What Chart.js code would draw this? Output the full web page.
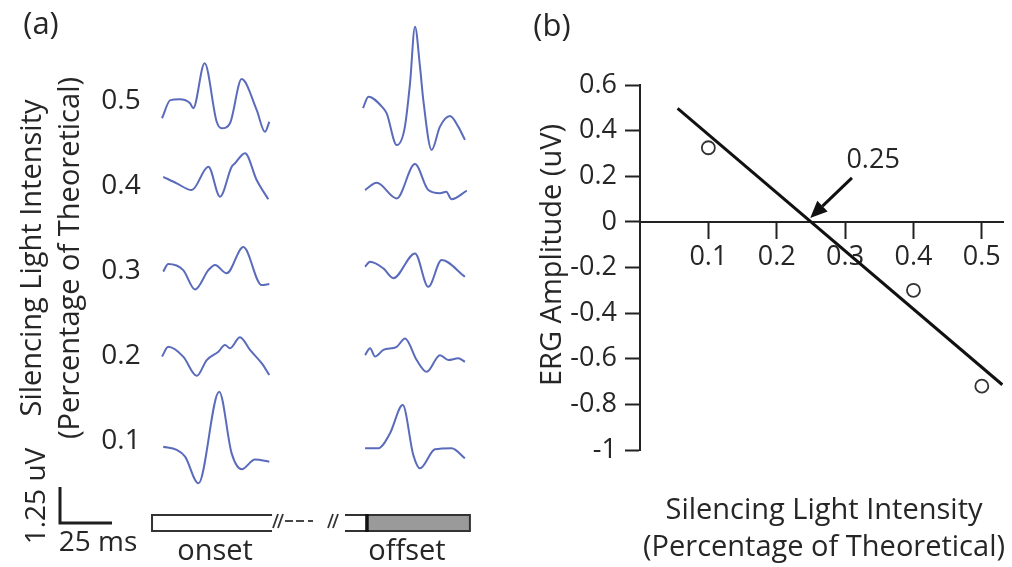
<!DOCTYPE html>
<html><head><meta charset="utf-8">
<script src="https://cdn.jsdelivr.net/npm/chart.js@4.4.1/dist/chart.umd.min.js"></script>
<style>
html,body{margin:0;padding:0;background:#fff;}
#wrap{position:relative;width:1012px;height:567px;overflow:hidden;background:#fff;}
#ca{position:absolute;left:0;top:0;}
#cb{position:absolute;left:500px;top:0;}
</style></head><body>
<div id="wrap"><canvas id="ca" width="500" height="567"></canvas><canvas id="cb" width="512" height="567"></canvas></div>
<script>
// ---------- DATA ----------
// Panel (a): ERG traces, [time ms, amplitude uV]
const intensities = [0.5, 0.4, 0.3, 0.2, 0.1];
const onset05 = [[0,-0.60],[4,0.03],[8.5,0.06],[13.5,-0.08],[15,-0.25],[20.5,1.31],[26.3,-0.72],[28.7,-0.95],[32.7,-0.77],[38.3,0.76],[45.5,-0.31],[49.5,-1.07],[51.6,-0.72]];
const offset05 = [[0,-0.25],[2.6,0.15],[9.6,-0.24],[11.4,-0.43],[16.2,-1.53],[20,-0.95],[22.6,0.61],[25,2.58],[27.4,1.19],[29,0.03],[33,-1.70],[37,-0.89],[41.8,-0.52],[45.8,-0.89],[49,-1.35]];
const onset04 = [[0.6,0.32],[7.1,0.09],[14.3,-0.14],[22.3,0.67],[27.9,-0.37],[33.5,0.67],[35.1,0.79],[39.9,1.14],[45.5,0.21],[51.1,-0.46]];
const offset04 = [[1,-0.14],[6.6,0.11],[16.2,-0.43],[25,0.76],[31.4,-0.14],[37,-0.25],[40,-0.20],[42.6,-0.46],[49.9,-0.16]];
const onset03 = [[0.6,-0.02],[3,0.24],[10.2,0.03],[15.9,-0.64],[22.3,0.03],[25.5,0.21],[31.1,-0.08],[39.1,0.83],[47.9,-0.49],[51.6,-0.45]];
const offset03 = [[1,0.15],[3.4,0.32],[9.8,0.09],[14.6,-0.25],[25,0.61],[31.4,-0.55],[37.8,0.38],[49,-0.20]];
const onset02 = [[0,-0.02],[3,0.32],[10.2,-0.02],[16.7,-0.69],[21.5,-0.14],[27.1,0.15],[30.3,0.38],[32.7,0.27],[37.5,0.65],[42.3,0.21],[47.9,-0.25],[51.6,-0.66]];
const offset02 = [[1,0.03],[3.4,0.27],[5.8,-0.02],[9.8,0.21],[16.2,0.32],[20.2,0.61],[25.8,-0.14],[30.6,-0.55],[37,0.03],[41,-0.14],[45.8,-0.08],[49,-0.20]];
const onset01 = [[0.6,-0.20],[7.1,-0.31],[11.1,-0.54],[17.5,-1.47],[27.5,1.71],[33.5,-0.43],[38.3,-0.98],[44.7,-0.64],[51.6,-0.72]];
const offset01 = [[1,-0.25],[7.4,-0.25],[13,0.27],[19.1,1.25],[24.2,-0.49],[27.4,-0.95],[34.6,-0.29],[42.6,-0.25],[49,-0.60]];
const onsetTraces = [onset05, onset04, onset03, onset02, onset01];
const offsetTraces = [offset05, offset04, offset03, offset02, offset01];
const scaleBarUv = 1.25, scaleBarMs = 25;

// Panel (b): ERG amplitude vs silencing intensity
const measIntensity = [0.1, 0.4, 0.5];
const measAmplitude = [0.325, -0.30, -0.72];
const fitSlope = -2.55, fitZero = 0.25, fitFrom = 0.055, fitTo = 0.53;
const xTickValues = [0.1, 0.2, 0.3, 0.4, 0.5];
const yTickValues = [0.6, 0.4, 0.2, 0, -0.2, -0.4, -0.6, -0.8, -1];

// ---------- STYLE / LAYOUT ----------
const FONT = "'Open Sans', 'Noto Sans', sans-serif";
const TXT = '#262626';
const TRACE = '#5a6bbb';
Chart.defaults.font.family = FONT;

const pxPerMs = 2.08, pxPerUv = 28.8;
const onsetStartPx = 162, offsetStartPx = 363, firstBasePx = 101, rowGapPx = 85;
const rowSpacingUv = rowGapPx / pxPerUv;
const offsetShiftMs = (offsetStartPx - onsetStartPx) / pxPerMs;
const axMinX = -onsetStartPx / pxPerMs, axMaxX = axMinX + 500 / pxPerMs;
const axMaxY = firstBasePx / pxPerUv, axMinY = axMaxY - 567 / pxPerUv;

function place(tr, dt, dv) { return tr.map(([t, v]) => ({x: t + dt, y: v + dv})); }
const dsA = [];
intensities.forEach((I, i) => {
  const base = -i * rowSpacingUv;
  dsA.push({label: 'onset ' + I, data: place(onsetTraces[i], 0, base)});
  dsA.push({label: 'offset ' + I, data: place(offsetTraces[i], offsetShiftMs, base)});
});
dsA.forEach(d => Object.assign(d, {borderColor: TRACE, borderWidth: 2, pointRadius: 0, cubicInterpolationMode: 'monotone', fill: false}));

function rotText(ctx, s, x, y) {
  ctx.save(); ctx.translate(x, y); ctx.rotate(-Math.PI / 2); ctx.fillText(s, 0, 0); ctx.restore();
}

const panelADecor = {
  id: 'panelADecor',
  afterDraw(chart) {
    const {ctx, scales: {x, y}} = chart;
    ctx.save();
    ctx.fillStyle = TXT; ctx.strokeStyle = '#2a2a2a';
    ctx.textAlign = 'center'; ctx.textBaseline = 'middle';
    ctx.font = '31px ' + FONT;
    ctx.fillText('(a)', 41, 25);
    ctx.font = '29px ' + FONT;
    ctx.textBaseline = 'alphabetic';
    rotText(ctx, 'Silencing Light Intensity', 41, 258);
    rotText(ctx, '(Percentage of Theoretical)', 79, 258);
    ctx.textBaseline = 'middle';
    ctx.font = '28px ' + FONT;
    intensities.forEach((I, i) => ctx.fillText(I.toFixed(1), 121, y.getPixelForValue(-i * rowSpacingUv)));
    // scale bar
    const sbX = 60, sbY = 523;
    const hPx = Math.abs(y.getPixelForValue(0) - y.getPixelForValue(scaleBarUv));
    const wPx = Math.abs(x.getPixelForValue(scaleBarMs) - x.getPixelForValue(0));
    ctx.lineWidth = 3; ctx.strokeStyle = '#1e1e1e';
    ctx.beginPath(); ctx.moveTo(sbX, sbY - hPx); ctx.lineTo(sbX, sbY); ctx.lineTo(sbX + wPx, sbY); ctx.stroke();
    ctx.font = '28px ' + FONT;
    ctx.textBaseline = 'alphabetic';
    ctx.fillText(scaleBarMs + ' ms', 98, 551);
    rotText(ctx, scaleBarUv + ' uV', 45, 496);
    // stimulus bars
    const top = 515, bot = 531;
    ctx.lineWidth = 2; ctx.strokeStyle = '#333';
    const oL = x.getPixelForValue(-4.8), oR = x.getPixelForValue(52.9);
    ctx.beginPath(); ctx.moveTo(oR, top); ctx.lineTo(oL, top); ctx.lineTo(oL, bot); ctx.lineTo(oR, bot); ctx.stroke();
    // break marks
    ctx.lineWidth = 1.8;
    [273, 278, 328, 333].forEach(bx => { ctx.beginPath(); ctx.moveTo(bx, 528); ctx.lineTo(bx + 5, 514); ctx.stroke(); });
    [[285, 293], [296, 304], [308, 313]].forEach(([a, b]) => { ctx.beginPath(); ctx.moveTo(a, 521); ctx.lineTo(b, 521); ctx.stroke(); });
    const fL = x.getPixelForValue(offsetShiftMs + 1.9), fR = x.getPixelForValue(offsetShiftMs + 51.4);
    ctx.lineWidth = 2;
    ctx.beginPath(); ctx.moveTo(345, top); ctx.lineTo(fL, top); ctx.moveTo(345, bot); ctx.lineTo(fL, bot); ctx.stroke();
    ctx.fillStyle = '#9a9a9a';
    ctx.fillRect(fL, top, fR - fL, bot - top);
    ctx.strokeRect(fL, top, fR - fL, bot - top);
    ctx.lineWidth = 3.5; ctx.strokeStyle = '#111';
    ctx.beginPath(); ctx.moveTo(fL, top - 1); ctx.lineTo(fL, bot + 1); ctx.stroke();
    ctx.fillStyle = TXT;
    ctx.font = '29px ' + FONT;
    ctx.fillText('onset', (oL + oR) / 2 + 3, 560);
    ctx.fillText('offset', 407, 560);
    ctx.restore();
  }
};

new Chart(document.getElementById('ca'), {
  type: 'line',
  data: {datasets: dsA},
  options: {
    responsive: false, animation: false, parsing: true,
    layout: {padding: 0},
    plugins: {legend: {display: false}, tooltip: {enabled: false}},
    scales: {
      x: {type: 'linear', display: false, min: axMinX, max: axMaxX},
      y: {type: 'linear', display: false, min: axMinY, max: axMaxY}
    }
  },
  plugins: [panelADecor]
});

// ---------- PANEL (b) ----------
const arrowSpec = {tail: [0.31, 0.193], tip: [0.249, 0.0175], label: '0.25', labelAt: [0.341, 0.27]};
const panelBDecor = {
  id: 'panelBDecor',
  afterDraw(chart) {
    const {ctx, scales: {x, y}} = chart;
    const ox = 500;
    ctx.save();
    ctx.fillStyle = TXT; ctx.textAlign = 'center';
    ctx.textBaseline = 'middle';
    ctx.font = '31px ' + FONT;
    ctx.fillText('(b)', 552 - ox, 27);
    ctx.textBaseline = 'alphabetic';
    ctx.font = '29px ' + FONT;
    ctx.fillText('Silencing Light Intensity', 824 - ox, 519);
    ctx.fillText('(Percentage of Theoretical)', 824 - ox, 556);
    rotText(ctx, 'ERG Amplitude (uV)', 561 - ox, 255);
    // arrow
    const tx = x.getPixelForValue(arrowSpec.tail[0]), ty = y.getPixelForValue(arrowSpec.tail[1]);
    const hx = x.getPixelForValue(arrowSpec.tip[0]), hy = y.getPixelForValue(arrowSpec.tip[1]);
    const ang = Math.atan2(hy - ty, hx - tx), L = 17, W = 7.5;
    const bx = hx - L * Math.cos(ang), by = hy - L * Math.sin(ang);
    ctx.strokeStyle = '#111'; ctx.fillStyle = '#111'; ctx.lineWidth = 3;
    ctx.beginPath(); ctx.moveTo(tx, ty); ctx.lineTo(bx, by); ctx.stroke();
    ctx.beginPath(); ctx.moveTo(hx, hy);
    ctx.lineTo(bx + W * Math.sin(ang), by - W * Math.cos(ang));
    ctx.lineTo(bx - W * Math.sin(ang), by + W * Math.cos(ang));
    ctx.closePath(); ctx.fill();
    ctx.fillStyle = TXT; ctx.textBaseline = 'middle';
    ctx.font = '27px ' + FONT;
    ctx.fillText(arrowSpec.label, x.getPixelForValue(arrowSpec.labelAt[0]), y.getPixelForValue(arrowSpec.labelAt[1]));
    ctx.restore();
  }
};

const fitLine = [fitFrom, fitTo].map(v => ({x: v, y: fitSlope * (v - fitZero)}));
const tickFmt = v => String(Number(v.toFixed(2)));
new Chart(document.getElementById('cb'), {
  type: 'scatter',
  data: {
    datasets: [
      {label: 'fit', type: 'line', data: fitLine, borderColor: '#111', borderWidth: 3, pointRadius: 0, showLine: true, order: 2},
      {label: 'ERG', data: measIntensity.map((v, i) => ({x: v, y: measAmplitude[i]})), pointRadius: 6.5, pointBorderWidth: 1.8,
        pointBorderColor: '#333', pointBackgroundColor: '#fff', pointStyle: 'circle', order: 1}
    ]
  },
  options: {
    responsive: false, animation: false,
    layout: {padding: {left: 60, right: 4, top: 85, bottom: 117}},
    plugins: {legend: {display: false}, tooltip: {enabled: false}},
    scales: {
      x: {
        type: 'linear', min: 0, max: 0.532, position: {y: 0},
        afterBuildTicks: s => { s.ticks = xTickValues.map(v => ({value: v})); },
        grid: {display: true, drawOnChartArea: false, drawTicks: true, tickLength: 16, tickWidth: 2, color: '#222'},
        border: {display: true, color: '#222', width: 2},
        ticks: {font: {size: 27, family: FONT}, color: TXT, padding: 3, callback: tickFmt, maxRotation: 0}
      },
      y: {
        type: 'linear', min: -1, max: 0.6, position: 'left',
        afterBuildTicks: s => { s.ticks = yTickValues.map(v => ({value: v})); },
        afterFit: s => { s.width = 80; },
        grid: {display: true, drawOnChartArea: false, drawTicks: true, tickLength: 15, tickWidth: 2, color: '#222'},
        border: {display: true, color: '#222', width: 2},
        ticks: {font: {size: 27, family: FONT}, color: TXT, padding: 8, callback: tickFmt}
      }
    }
  },
  plugins: [panelBDecor]
});
</script>
</body></html>
